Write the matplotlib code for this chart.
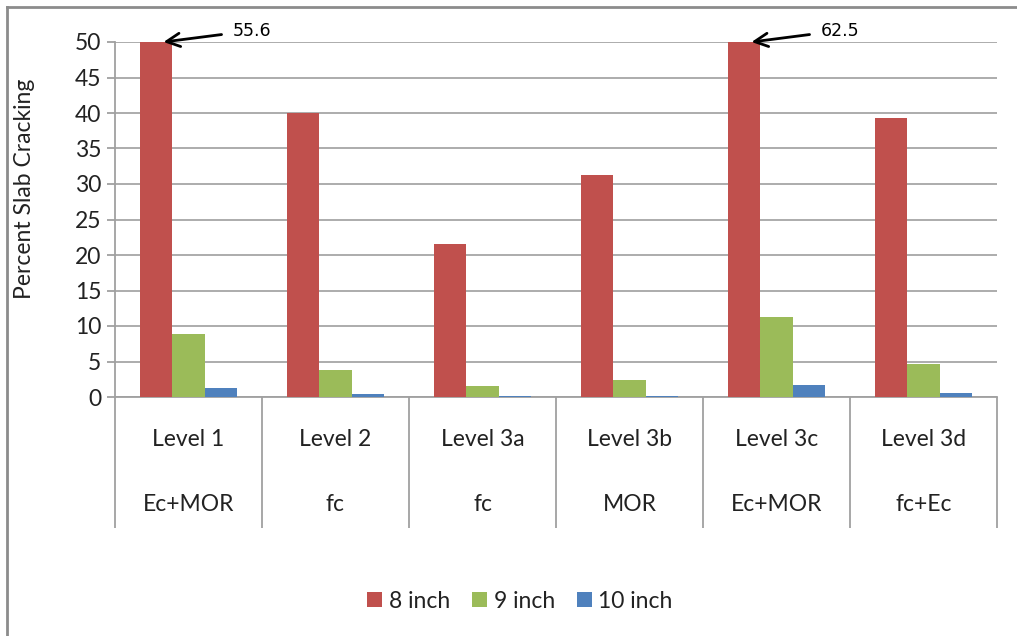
import numpy as np
import matplotlib
matplotlib.use("Agg")
import matplotlib.pyplot as plt
from matplotlib.lines import Line2D
from matplotlib.transforms import blended_transform_factory

plt.rcParams['font.family'] = ['Lato', 'DejaVu Sans']

levels = ['Level 1', 'Level 2', 'Level 3a', 'Level 3b', 'Level 3c', 'Level 3d']
inputs = ['Ec+MOR', 'fc', 'fc', 'MOR', 'Ec+MOR', 'fc+Ec']
series = ['8 inch', '9 inch', '10 inch']
inch8 = [55.6, 40.0, 21.5, 31.2, 62.5, 39.3]
inch9 = [8.9, 3.8, 1.5, 2.4, 11.2, 4.6]
inch10 = [1.3, 0.4, 0.2, 0.2, 1.7, 0.6]
colors = ['#C0504D', '#9BBB59', '#4F81BD']
ymax = 50

fig = plt.figure(figsize=(10.17, 6.36), dpi=100)
ax = fig.add_axes([115 / 1017, 1 - 397 / 636, 882 / 1017, 355 / 636])

x = np.arange(len(levels))
w = 0.22
for k, (vals, c, name) in enumerate(zip([inch8, inch9, inch10], colors, series)):
    ax.bar(x + (k - 1) * w, vals, w, color=c, label=name, zorder=3)

ax.set_xlim(-0.5, len(levels) - 0.5)
ax.set_ylim(0, ymax)
ax.set_yticks(np.arange(0, 51, 5))
ax.yaxis.grid(True, color='#a6a6a6', linewidth=1.3, zorder=0)
ax.set_axisbelow(True)
for s in ['top', 'right']:
    ax.spines[s].set_visible(False)
for s in ['left', 'bottom']:
    ax.spines[s].set_color('#a0a0a0')
    ax.spines[s].set_linewidth(1.3)
ax.tick_params(axis='y', length=6, color='#a0a0a0', width=1.3,
               labelsize=16.5, labelcolor='#222222', pad=4)

# category separators below the axis
ax.set_xticks([])
ax.set_xticks(np.arange(-0.5, len(levels)), minor=True)
ax.tick_params(axis='x', which='minor', length=94, color='#a0a0a0', width=1.3)

tr = blended_transform_factory(ax.transData, ax.transAxes)
for i in range(len(levels)):
    ax.text(i, -0.121, levels[i], transform=tr, ha='center', va='center',
            fontsize=16.5, color='#222222')
    ax.text(i, -0.304, inputs[i], transform=tr, ha='center', va='center',
            fontsize=16.5, color='#222222')

ax.set_ylabel('Percent Slab Cracking', fontsize=16.5, color='#222222')
ax.yaxis.set_label_coords(-0.091, 0.586)

# values that run off the top of the axis
for i, v in enumerate(inch8):
    if v > ymax:
        ax.annotate(f'{v:.1f}', xy=(i - w + 0.05, ymax),
                    xytext=(i - w + 0.52, ymax + 1.6),
                    ha='left', va='center', fontsize=12.5,
                    family='DejaVu Sans', annotation_clip=False,
                    arrowprops=dict(arrowstyle='->', color='black', lw=2,
                                    mutation_scale=24, shrinkA=6, shrinkB=0))

fig.legend(loc='center', bbox_to_anchor=(520 / 1017, 1 - 601 / 636), ncol=3,
           frameon=False, fontsize=16.5, handlelength=0.65, handleheight=0.65,
           columnspacing=0.95, handletextpad=0.3, labelcolor='#222222')

# outer chart border (left and top edges visible)
fig.add_artist(Line2D([7 / 1017, 7 / 1017], [0, 1 - 7 / 636], color='#8c8c8c', lw=2))
fig.add_artist(Line2D([7 / 1017, 1], [1 - 7 / 636, 1 - 7 / 636], color='#8c8c8c', lw=2))

fig.savefig('out.png', dpi=100)
